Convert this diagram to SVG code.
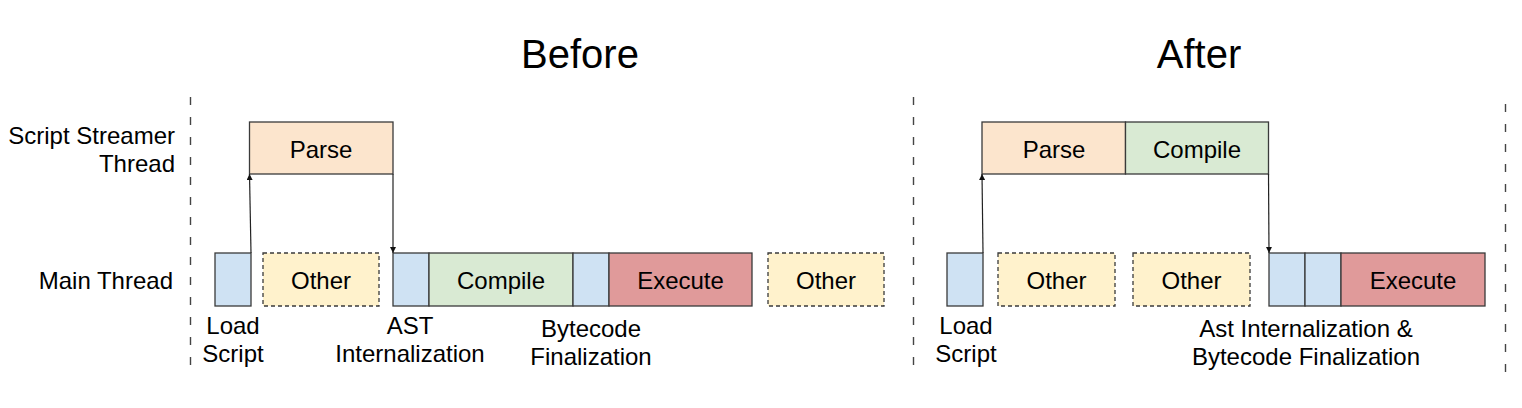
<svg xmlns="http://www.w3.org/2000/svg" width="1522" height="408" viewBox="0 0 1522 408">
<style>
text{font-family:"Liberation Sans",Arial,sans-serif;fill:#000}
.t{font-size:24px;text-anchor:middle}
.lbl{font-size:24px}
.title{font-size:40px;text-anchor:middle}
.box{stroke:#3a3a3a;stroke-width:1.3}
.parse{fill:#fce5cd}
.compile{fill:#d9ead3}
.blue{fill:#cfe2f3}
.exec{fill:#e09a9a}
.other{fill:#fff2cc;stroke:#3a3a3a;stroke-width:1.3;stroke-dasharray:4 3}
.sep{stroke:#444;stroke-width:1.4;stroke-dasharray:8 12;fill:none}
.conn{stroke:#222;stroke-width:1.2;fill:none}
</style>
<defs>
<marker id="ah" viewBox="0 0 10 10" refX="10" refY="5" markerWidth="6" markerHeight="6" markerUnits="userSpaceOnUse" orient="auto">
<path d="M0,0 L10,5 L0,10 z" fill="#111"/>
</marker>
</defs>
<rect width="1522" height="408" fill="#fff"/>

<g id="titles">
<text class="title" x="580" y="68">Before</text>
<text class="title" x="1199" y="68">After</text>
</g>

<g id="separators">
<line class="sep" x1="190.5" y1="97" x2="190.5" y2="372"/>
<line class="sep" x1="913.5" y1="97" x2="913.5" y2="372"/>
<line class="sep" x1="1505.5" y1="104" x2="1505.5" y2="372"/>
</g>

<g id="row-labels">
<text class="lbl" x="175" y="144" text-anchor="end">Script Streamer</text>
<text class="lbl" x="175" y="172" text-anchor="end">Thread</text>
<text class="lbl" x="173" y="289" text-anchor="end">Main Thread</text>
</g>

<!-- Before -->
<g id="before-parse"><rect class="box parse" x="249.5" y="122" width="143.5" height="52"/><text class="t" x="321" y="157.5">Parse</text></g>
<g id="before-load"><rect class="box blue" x="215" y="253" width="36" height="53"/></g>
<g id="before-other1"><rect class="other" x="263" y="253" width="116" height="53"/><text class="t" x="321" y="289">Other</text></g>
<g id="before-ast"><rect class="box blue" x="393" y="253" width="36" height="53"/></g>
<g id="before-compile"><rect class="box compile" x="429" y="253" width="144" height="53"/><text class="t" x="501" y="289">Compile</text></g>
<g id="before-bytecode"><rect class="box blue" x="573" y="253" width="36" height="53"/></g>
<g id="before-execute"><rect class="box exec" x="609" y="253" width="143" height="53"/><text class="t" x="680.5" y="289">Execute</text></g>
<g id="before-other2"><rect class="other" x="768" y="253" width="116" height="53"/><text class="t" x="826" y="289">Other</text></g>

<g id="before-captions">
<text class="t" x="233" y="334">Load</text>
<text class="t" x="233" y="362">Script</text>
<text class="t" x="410" y="334">AST</text>
<text class="t" x="410" y="362">Internalization</text>
<text class="t" x="591" y="337">Bytecode</text>
<text class="t" x="591" y="365">Finalization</text>
</g>

<!-- After -->
<g id="after-parse"><rect class="box parse" x="982" y="122" width="143.5" height="52"/><text class="t" x="1054" y="157.5">Parse</text></g>
<g id="after-compile"><rect class="box compile" x="1125.5" y="122" width="143" height="52"/><text class="t" x="1197" y="157.5">Compile</text></g>
<g id="after-load"><rect class="box blue" x="947" y="253" width="36" height="53"/></g>
<g id="after-other1"><rect class="other" x="998" y="253" width="117" height="53"/><text class="t" x="1056.5" y="289">Other</text></g>
<g id="after-other2"><rect class="other" x="1133" y="253" width="117" height="53"/><text class="t" x="1191.5" y="289">Other</text></g>
<g id="after-ast"><rect class="box blue" x="1269" y="253" width="36" height="53"/></g>
<g id="after-bytecode"><rect class="box blue" x="1305" y="253" width="36" height="53"/></g>
<g id="after-execute"><rect class="box exec" x="1341" y="253" width="144" height="53"/><text class="t" x="1413" y="289">Execute</text></g>

<g id="after-captions">
<text class="t" x="966" y="334">Load</text>
<text class="t" x="966" y="362">Script</text>
<text class="t" x="1306" y="337">Ast Internalization &amp;</text>
<text class="t" x="1306" y="365">Bytecode Finalization</text>
</g>

<g id="connectors">
<line class="conn" x1="251" y1="253" x2="249.5" y2="174" marker-end="url(#ah)"/>
<line class="conn" x1="393" y1="174" x2="393" y2="253" marker-end="url(#ah)"/>
<line class="conn" x1="983" y1="253" x2="982" y2="174" marker-end="url(#ah)"/>
<line class="conn" x1="1268.5" y1="174" x2="1269" y2="253" marker-end="url(#ah)"/>
</g>
</svg>
